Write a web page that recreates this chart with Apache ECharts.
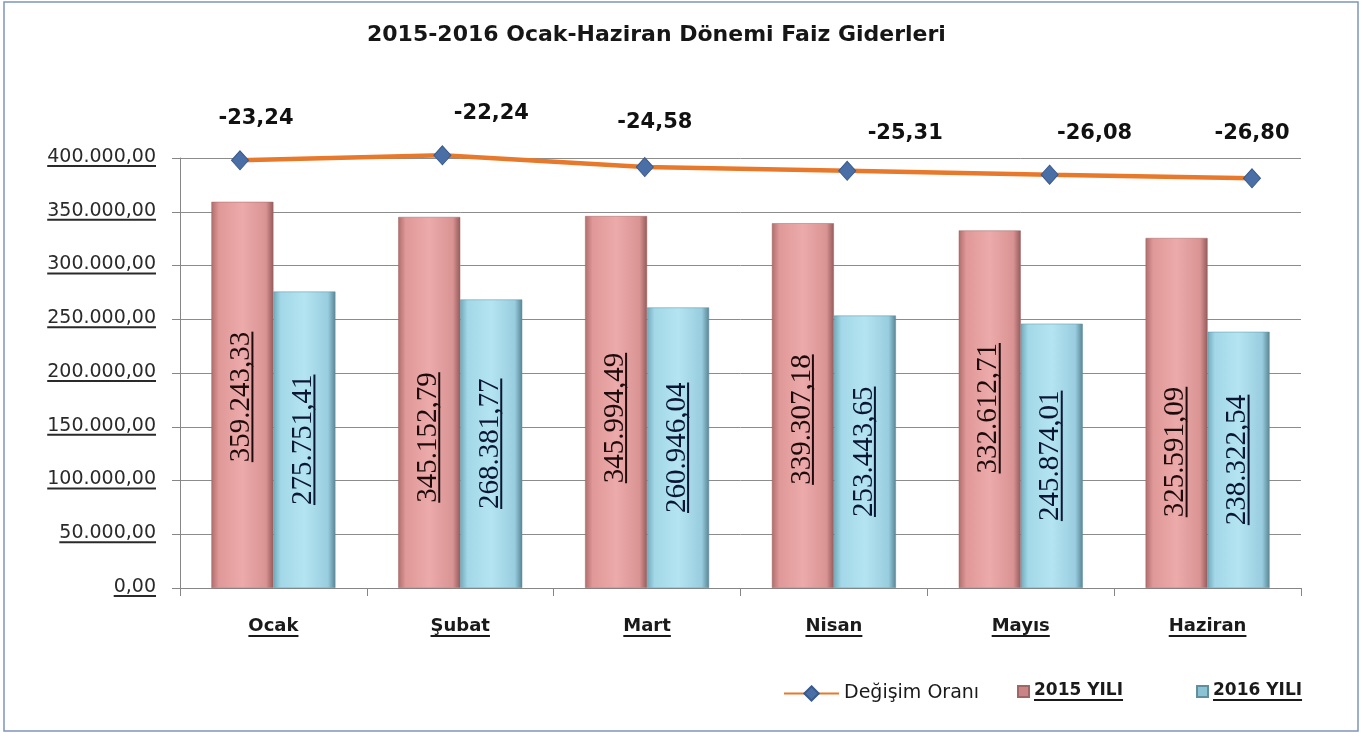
<!DOCTYPE html>
<html>
<head>
<meta charset="utf-8">
<script src="https://cdn.jsdelivr.net/npm/echarts@6/dist/echarts.min.js"></script>
<style>
  body { margin: 0; background: #fff; }
  #chart { width: 1365px; height: 733px; }
</style>
</head>
<body>
<div id="chart"></div>
<script>
// veriler
const categories = ["Ocak", "Şubat", "Mart", "Nisan", "Mayıs", "Haziran"];
const faiz2015 = [359243.33, 345152.79, 345994.49, 339307.18, 332612.71, 325591.09];
const faiz2016 = [275751.41, 268381.77, 260946.04, 253443.65, 245874.01, 238322.54];
const degisim = [-23.24, -22.24, -24.58, -25.31, -26.08, -26.80];
const yMin = 0, yMax = 400000, yStep = 50000;

// etiket kaydirmalari (Excel'deki elle yerlestirilmis etiketler)
const changeLabelOffset = [[16, -42], [49, -42], [10, -45], [58, -37], [45, -41], [0, -45]];
const pinkLabelShift = [2, 35, 16, 14, -1, 39]; // asagi dogru, px

// 1.234,56 bicimi
function trNum(v) {
  let s = Math.abs(v).toFixed(2).split(".");
  let i = s[0].replace(/\B(?=(\d{3})+(?!\d))/g, ".");
  return (v < 0 ? "-" : "") + i + "," + s[1];
}

// alti cizili yazi: ikinci satir ayni metin, saydam, sadece arka plan cizgisi
function ulRich(family, size, weight, color, lineHeight) {
  return {
    t: { fontFamily: family, fontSize: size, fontWeight: weight, color: color, lineHeight: lineHeight, align: "center" },
    u: { fontFamily: family, fontSize: size, fontWeight: weight, color: "transparent", height: 2, lineHeight: 2, backgroundColor: color, align: "center" }
  };
}
function ul(s) {
  return "{t|" + s + "}\n{u|" + s + "}";
}

const pinkGrad = new echarts.graphic.LinearGradient(0, 0, 1, 0, [
  { offset: 0, color: "#b06c6c" },
  { offset: 0.12, color: "#e09898" },
  { offset: 0.5, color: "#ecaaaa" },
  { offset: 0.88, color: "#d99393" },
  { offset: 1, color: "#955a5a" }
]);
const blueGrad = new echarts.graphic.LinearGradient(0, 0, 1, 0, [
  { offset: 0, color: "#72aabb" },
  { offset: 0.12, color: "#a3d8e8" },
  { offset: 0.5, color: "#b4e4f1" },
  { offset: 0.88, color: "#98cddf" },
  { offset: 1, color: "#578595" }
]);

let chart = echarts.init(document.getElementById("chart"), null, { renderer: "canvas" });
chart.setOption({
  backgroundColor: "#ffffff",
  animation: false,
  title: {
    text: "2015-2016 Ocak-Haziran Dönemi Faiz Giderleri",
    left: 362,
    top: 19,
    textStyle: { fontFamily: "DejaVu Sans", fontWeight: "bold", fontSize: 22, color: "#161616" }
  },
  graphic: [
    {
      type: "rect",
      shape: { x: 4, y: 2, width: 1354, height: 729 },
      style: { fill: null, stroke: "#7f95bb", lineWidth: 1.5 },
      silent: true
    }
  ],
  legend: [
    {
      data: ["Değişim Oranı"],
      left: 778,
      top: 679,
      itemWidth: 55,
      itemHeight: 18,
      itemGap: 6,
      textStyle: { fontFamily: "DejaVu Sans", fontSize: 19, color: "#1a1a1a" }
    },
    {
      data: [
        { name: "2015 YILI", icon: "rect", itemStyle: { color: "#c98585" } },
        { name: "2016 YILI", icon: "rect", itemStyle: { color: "#8cc3d4" } }
      ],
      left: 1012,
      top: 677,
      itemWidth: 11,
      itemHeight: 11,
      itemGap: 73,
      formatter: function (name) { return ul(name); },
      textStyle: { rich: ulRich("DejaVu Sans", 17, "bold", "#1a1a1a", 17) }
    }
  ],
  grid: [
    { left: 180, right: 64, top: 158, bottom: 145, outerBoundsMode: "none" },
    { left: 240, right: 113, top: 144, height: 50.4, outerBoundsMode: "none" }
  ],
  xAxis: [
    {
      type: "category",
      data: categories,
      gridIndex: 0,
      axisLine: { lineStyle: { color: "#868686", width: 1 } },
      axisTick: { show: true, alignWithLabel: false, length: 8, lineStyle: { color: "#868686" } },
      axisLabel: {
        margin: 29,
        formatter: function (v) { return ul(v); },
        rich: ulRich("DejaVu Sans", 18, "bold", "#1a1a1a", 18)
      },
      splitLine: { show: false }
    },
    {
      type: "category",
      data: categories,
      gridIndex: 1,
      boundaryGap: false,
      show: false
    }
  ],
  yAxis: [
    {
      type: "value",
      gridIndex: 0,
      min: yMin,
      max: yMax,
      interval: yStep,
      axisLine: { show: true, lineStyle: { color: "#868686", width: 1 } },
      axisTick: { show: true, length: 8, lineStyle: { color: "#868686" } },
      axisLabel: {
        margin: 24,
        align: "right",
        formatter: function (v) { return ul(trNum(v)); },
        rich: ulRich("DejaVu Sans", 19, "normal", "#2a2a2a", 16)
      },
      splitLine: { show: true, lineStyle: { color: "#8c8c8c", width: 1 } }
    },
    {
      type: "value",
      gridIndex: 1,
      min: -30,
      max: -20,
      show: false
    }
  ],
  series: [
    {
      name: "2015 YILI",
      type: "bar",
      xAxisIndex: 0,
      yAxisIndex: 0,
      data: faiz2015.map(function (v, i) {
        return { value: v, label: { offset: [-pinkLabelShift[i], 0] } };
      }),
      barWidth: 62,
      barGap: "0%",
      itemStyle: { color: pinkGrad, borderColor: "#a06666", borderWidth: 0.5 },
      label: {
        show: true,
        position: "inside",
        rotate: 90,
        formatter: function (p) { return ul(trNum(p.value)); },
        rich: ulRich("Liberation Serif", 29, "normal", "#1e0c0c", 20)
      }
    },
    {
      name: "2016 YILI",
      type: "bar",
      xAxisIndex: 0,
      yAxisIndex: 0,
      data: faiz2016,
      barWidth: 62,
      barGap: "0%",
      itemStyle: { color: blueGrad, borderColor: "#5f8e9e", borderWidth: 0.5 },
      label: {
        show: true,
        position: "inside",
        rotate: 90,
        formatter: function (p) { return ul(trNum(p.value)); },
        rich: ulRich("Liberation Serif", 29, "normal", "#0a1634", 20)
      }
    },
    {
      name: "Değişim Oranı",
      type: "line",
      xAxisIndex: 1,
      yAxisIndex: 1,
      clip: false,
      z: 5,
      data: degisim.map(function (v, i) {
        return { value: v, label: { offset: changeLabelOffset[i] } };
      }),
      symbol: "diamond",
      symbolSize: [17, 19],
      lineStyle: { color: "#e8782a", width: 4.5 },
      itemStyle: { color: "#4a6fa6", borderColor: "#3a5a8c", borderWidth: 1 },
      label: {
        show: true,
        position: "inside",
        formatter: function (p) { return trNum(p.value); },
        fontFamily: "DejaVu Sans",
        fontWeight: "bold",
        fontSize: 21,
        color: "#111111"
      }
    }
  ]
});
</script>
</body>
</html>
